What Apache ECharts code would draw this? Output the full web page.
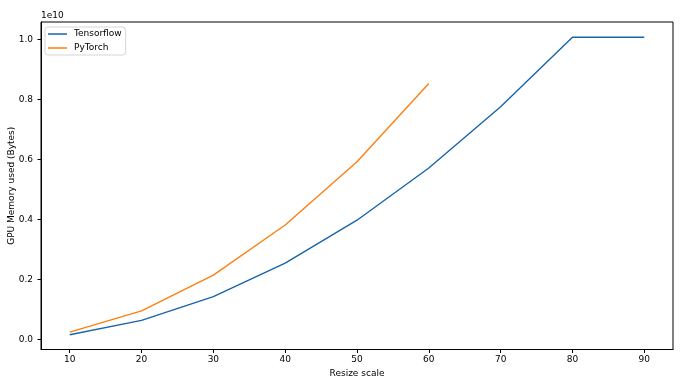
<!DOCTYPE html>
<html>
<head>
<meta charset="utf-8">
<script src="https://cdn.jsdelivr.net/npm/echarts@6/dist/echarts.min.js"></script>
<style>html,body{margin:0;padding:0;background:#fff}#c{width:690px;height:383px}</style>
</head>
<body>
<div id="c"></div>
<script>
var resizeScale = [10, 20, 30, 40, 50, 60, 70, 80, 90];
var tensorflowBytes = [0.153e9, 0.63e9, 1.42e9, 2.54e9, 3.97e9, 5.71e9, 7.75e9, 10.07e9, 10.07e9];
var pytorchBytes = [0.24e9, 0.95e9, 2.14e9, 3.81e9, 5.92e9, 8.53e9];
var xTicks = [10, 20, 30, 40, 50, 60, 70, 80, 90];
var yTicks = [0, 0.2e10, 0.4e10, 0.6e10, 0.8e10, 1.0e10];

function pairs(xs, ys) { return ys.map(function (v, i) { return [xs[i], v]; }); }

var font = 'DejaVu Sans';
var chart = echarts.init(document.getElementById('c'), null, {renderer: 'canvas'});
chart.setOption({
  animation: false,
  backgroundColor: '#fff',
  textStyle: {fontFamily: font},
  grid: {left: 41, right: 17, top: 22, bottom: 33.5, containLabel: false, outerBoundsMode: 'none',
    show: true, borderColor: '#000', borderWidth: 1, backgroundColor: 'transparent'},
  legend: {
    orient: 'vertical', left: 45, top: 27, padding: [2, 4, 2, 3],
    itemWidth: 19, itemHeight: 1.5, itemGap: 4,
    borderColor: '#d6d6d6', borderWidth: 1, borderRadius: 3,
    backgroundColor: '#fff', icon: 'rect',
    textStyle: {fontFamily: font, fontSize: 9, color: '#000', padding: [0, 0, 0, 2], lineHeight: 10},
    data: ['Tensorflow', 'PyTorch']
  },
  xAxis: {
    type: 'value', min: 6, max: 94,
    name: 'Resize scale', nameLocation: 'middle', nameGap: 17,
    nameTextStyle: {fontFamily: font, fontSize: 9, color: '#000'},
    axisLine: {show: true, onZero: false, lineStyle: {color: '#000', width: 1}},
    axisTick: {show: true, length: 3.5, customValues: xTicks, lineStyle: {color: '#000'}},
    axisLabel: {customValues: xTicks, margin: 6, fontFamily: font, fontSize: 9, color: '#000'},
    splitLine: {show: false}
  },
  yAxis: {
    type: 'value', min: -0.034e10, max: 1.0577e10,
    name: 'GPU Memory used (Bytes)', nameLocation: 'middle', nameGap: 25, nameMoveOverlap: false,
    nameTextStyle: {fontFamily: font, fontSize: 9, color: '#000'},
    axisLine: {show: true, onZero: false, lineStyle: {color: '#000', width: 1}},
    axisTick: {show: true, length: 3.5, customValues: yTicks, lineStyle: {color: '#000'}},
    axisLabel: {customValues: yTicks, margin: 8, fontFamily: font, fontSize: 9, color: '#000',
      formatter: function (v) { return (v / 1e10).toFixed(1); }},
    splitLine: {show: false}
  },
  graphic: [{type: 'text', left: 41, top: 11, style: {text: '1e10', font: '9px "DejaVu Sans"', fill: '#000'}}],
  series: [
    {name: 'Tensorflow', type: 'line', data: pairs(resizeScale, tensorflowBytes), symbol: 'none',
      lineStyle: {color: '#1764ab', width: 1.4}, itemStyle: {color: '#1764ab'}},
    {name: 'PyTorch', type: 'line', data: pairs(resizeScale, pytorchBytes), symbol: 'none',
      lineStyle: {color: '#ff7f0e', width: 1.4}, itemStyle: {color: '#ff7f0e'}}
  ]
});
</script>
</body>
</html>
